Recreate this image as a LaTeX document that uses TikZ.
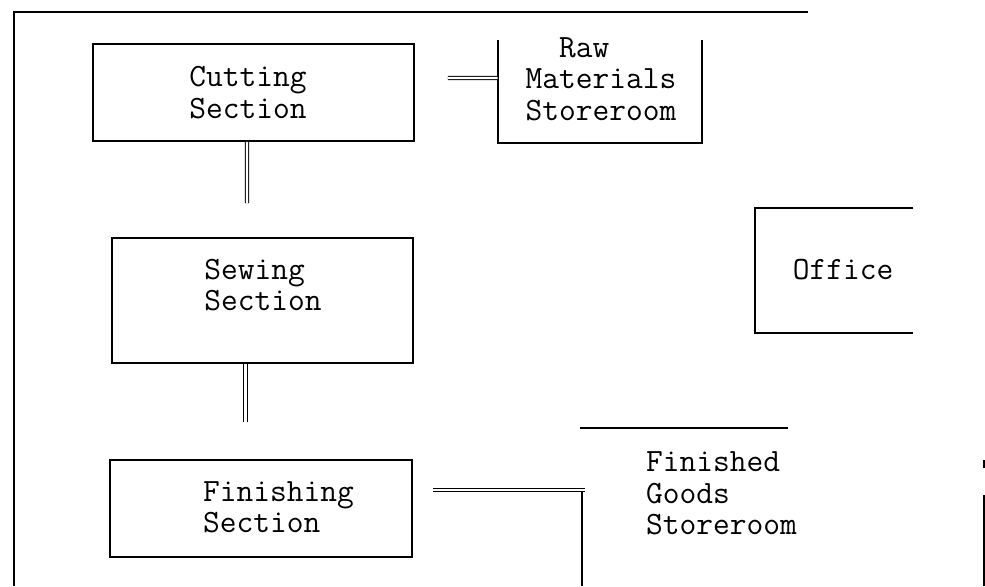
\documentclass[tikz,border=0pt]{standalone}
\usepackage{tikz}

\tikzset{
  room/.style={draw, line width=1pt, inner sep=0pt},
  openroom/.style={inner sep=0pt},
  wall/.style={line width=1pt},
  pipe/.style={double, line width=0.6pt, double distance=1.3pt},
  tag/.style={align=left, inner sep=0pt,
    font=\ttfamily\fontsize{18.5}{17.8}\selectfont}
}

\begin{document}
\begin{tikzpicture}
\useasboundingbox (0,0) rectangle (19.7,11.72);
% outer wall
\draw [wall] (0.28,0) -- (0.28,11.48) -- (16.16,11.48);
%
    \node (cut) [room, minimum width=6.42cm, minimum height=1.94cm] at (5.07,9.87) {};
    \node (sew) [room, minimum width=6.02cm, minimum height=2.5cm] at (5.25,5.71) {};
    \node (fin) [room, minimum width=6.04cm, minimum height=1.94cm] at (5.22,1.55) {};
    \node (raw) [openroom, minimum width=4.08cm, minimum height=2.06cm] at (12,9.89) {};
    \node (off) [openroom, minimum width=3.16cm, minimum height=2.5cm] at (16.68,6.31) {};
    \node (gds) [openroom, minimum width=8.04cm, minimum height=3.16cm] at (15.66,1.58) {};
%
    \node (cutl) [tag] at (4.96,9.87) {Cutting\\Section};
    \node (sewl) [tag] at (5.26,6.02) {Sewing\\Section};
    \node (finl) [tag] at (5.57,1.57) {Finishing\\Section};
    \node (rawl) [tag] at (12.02,10.14) {\phantom{Ma}Raw\\Materials\\Storeroom};
    \node (offl) [tag] at (16.86,6.32) {Office};
    \node (gdsl) [tag] at (14.43,1.85) {Finished\\Goods\\Storeroom};
%
\draw [wall] (raw.north west) -- (raw.south west) -- (raw.south east) -- (raw.north east);
\draw [wall] (off.north east) -- (off.north west) -- (off.south west) -- (off.south east);
\draw [wall] ([xshift=-0.04cm]gds.north west) -- ++(4.16,0);
\draw [wall] (gds.south west) -- ++(0,1.96);
\draw [wall] (gds.south east) -- ++(0,1.82);
\draw [wall] ([yshift=2.36cm]gds.south east) -- ++(0,0.16);
%
\coordinate (rawin) at ([yshift=0.27cm]raw.west);
\coordinate (gdsin) at ([xshift=0.06cm,yshift=0.34cm]gds.west);
\draw [pipe, shorten <=0.66cm] ([yshift=0.29cm]cut.east) -- (rawin);
\draw [pipe, shorten >=0.68cm] ([xshift=-0.13cm]cut.south) -- ([xshift=-0.31cm]sew.north);
\draw [pipe, shorten >=0.74cm] ([xshift=-0.34cm]sew.south) -- ([xshift=-0.31cm]fin.north);
\draw [pipe, shorten <=0.4cm] ([yshift=0.37cm]fin.east) -- (gdsin);
\end{tikzpicture}
\end{document}
